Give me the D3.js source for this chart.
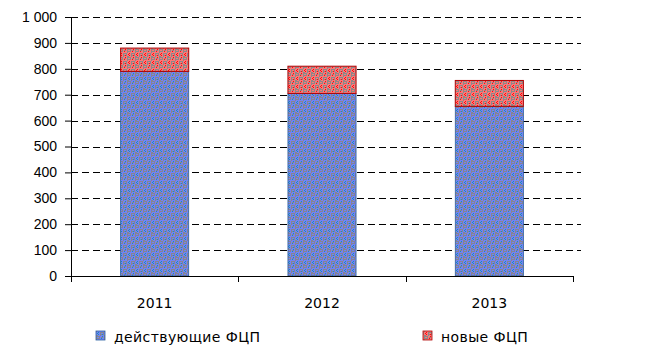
<!DOCTYPE html>
<html>
<head>
<meta charset="utf-8">
<script src="https://cdn.jsdelivr.net/npm/d3@7"></script>
<style>
  body { margin: 0; background: #fff; }
  svg { display: block; font-family: "DejaVu Sans", Verdana, sans-serif; }
</style>
</head>
<body>
<div id="chart"></div>
<script>
const years = ["2011", "2012", "2013"];
const current = [790, 705, 655];   // действующие ФЦП
const fresh = [90, 105, 100];      // новые ФЦП
const seriesNames = ["действующие ФЦП", "новые ФЦП"];
const yTicks = [0, 100, 200, 300, 400, 500, 600, 700, 800, 900, 1000];

const width = 650, height = 353;
const margin = { top: 17, right: 77, bottom: 77, left: 71 };
const mwidth = width - margin.left - margin.right;
const mheight = height - margin.top - margin.bottom;
const fontSize = "14px";

const svg = d3.select("#chart").append("svg")
    .attr("width", width)
    .attr("height", height);

// textured fills like the original
const defs = svg.append("defs");

function makePattern(id, bg, fg, dot) {
    const p = defs.append("pattern")
        .attr("id", id)
        .attr("patternUnits", "userSpaceOnUse")
        .attr("width", 8).attr("height", 8);
    p.append("rect").attr("width", 8).attr("height", 8).attr("fill", bg);
    // small meander-ish strokes
    const cells = [[0,0,4,1],[0,0,1,4],[3,0,1,3],[1,2,2,1],[4,4,4,1],[4,4,1,4],[7,4,1,3],[5,6,2,1],[0,7,2,1],[5,1,2,1]];
    cells.forEach(c => p.append("rect")
        .attr("x", c[0]).attr("y", c[1]).attr("width", c[2]).attr("height", c[3])
        .attr("fill", fg));
    [[5,2],[1,5],[6,0],[2,6],[2,4],[6,6]].forEach(c => p.append("rect")
        .attr("x", c[0]).attr("y", c[1]).attr("width", 1).attr("height", 1)
        .attr("fill", dot));
}
makePattern("pBlue", "#7482f4", "#858590", "#1a8fb8");
makePattern("pRed", "#fb7878", "#8c8888", "#ff0a0a");

const fmt = d3.formatLocale({ decimal: ",", thousands: "\u00a0", grouping: [3], currency: ["", ""] }).format(",d");

const yScale = d3.scaleLinear()
    .domain([0, 1000])
    .range([mheight, 0]);

const xScale = d3.scaleBand()
    .domain(years)
    .range([0, mwidth])
    .paddingInner(0.593)
    .paddingOuter(0.2965);

const g = svg.append("g")
    .attr("transform", "translate(" + margin.left + "," + margin.top + ")");

// gridlines
g.append("g")
    .selectAll("line")
    .data(yTicks.filter(d => d > 0))
    .enter().append("line")
    .attr("x1", 0)
    .attr("x2", mwidth + 8)
    .attr("y1", d => Math.round(yScale(d)) + 0.5)
    .attr("y2", d => Math.round(yScale(d)) + 0.5)
    .attr("stroke", "#000")
    .attr("stroke-width", 1)
    .attr("stroke-dasharray", "7,4");

// bars
const stack = years.map((y, i) => ({ year: y, a: current[i], b: fresh[i] }));

g.selectAll(".cur")
    .data(stack)
    .enter().append("rect")
    .attr("class", "cur")
    .attr("x", d => xScale(d.year))
    .attr("width", xScale.bandwidth())
    .attr("y", d => yScale(d.a))
    .attr("height", d => yScale(0) - yScale(d.a))
    .attr("fill", "url(#pBlue)")
    .attr("stroke", "#2a5fa0")
    .attr("stroke-width", 0.8);

g.selectAll(".new")
    .data(stack)
    .enter().append("rect")
    .attr("class", "new")
    .attr("x", d => xScale(d.year))
    .attr("width", xScale.bandwidth())
    .attr("y", d => yScale(d.a + d.b))
    .attr("height", d => yScale(d.a) - yScale(d.a + d.b))
    .attr("fill", "url(#pRed)")
    .attr("stroke", "#b00000")
    .attr("stroke-width", 1);

// y axis
const yAxis = d3.axisLeft(yScale)
    .tickValues(yTicks)
    .tickFormat(fmt)
    .tickSize(6)
    .tickPadding(8);

const ya = g.append("g").attr("class", "yAxis").call(yAxis);
ya.select(".domain").attr("d", "M0.5," + (mheight + 6) + "V0");
ya.selectAll("text").style("font-size", fontSize).attr("fill", "#000");
ya.selectAll("line").attr("x2", -6);

// x axis with ticks on category borders
const xa = g.append("g").attr("transform", "translate(0," + mheight + ")");
xa.append("line")
    .attr("x1", 0).attr("x2", mwidth)
    .attr("y1", 0.5).attr("y2", 0.5)
    .attr("stroke", "#000");
xa.selectAll(".tk")
    .data(d3.range(years.length + 1))
    .enter().append("line")
    .attr("x1", i => Math.round(i * xScale.step()) + 0.5)
    .attr("x2", i => Math.round(i * xScale.step()) + 0.5)
    .attr("y1", 0).attr("y2", 6)
    .attr("stroke", "#000");
xa.selectAll("text")
    .data(years)
    .enter().append("text")
    .attr("x", d => xScale(d) + xScale.bandwidth() / 2)
    .attr("y", 32)
    .attr("text-anchor", "middle")
    .style("font-size", fontSize)
    .text(d => d);

// legend
const legendX = [96, 423];
const legend = svg.append("g").attr("class", "legend");
seriesNames.forEach((name, i) => {
    legend.append("rect")
        .attr("x", legendX[i]).attr("y", 331)
        .attr("width", 9).attr("height", 9)
        .attr("fill", i === 0 ? "url(#pBlue)" : "url(#pRed)")
        .attr("stroke", i === 0 ? "#2a5fa0" : "#b00000")
        .attr("stroke-width", 0.8);
    legend.append("text")
        .attr("x", legendX[i] + 18)
        .attr("y", 342)
        .style("font-size", fontSize)
        .style("letter-spacing", "0.4px")
        .text(name);
});
</script>
</body>
</html>
